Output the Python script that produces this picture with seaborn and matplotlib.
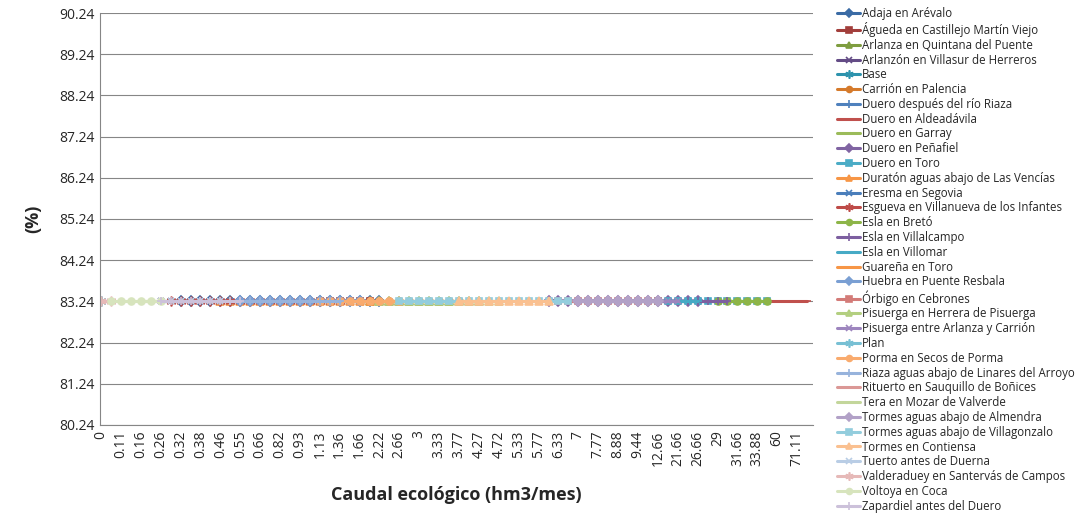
import numpy as np
import pandas as pd
import matplotlib
matplotlib.use('Agg')
import matplotlib.pyplot as plt
import seaborn as sns

# etiquetas visibles del eje X (Excel muestra una de cada dos categorías)
tick_labels = ['0', '0.11', '0.16', '0.26', '0.32', '0.38', '0.46', '0.55', '0.66', '0.82',
               '0.93', '1.13', '1.36', '1.66', '2.22', '2.66', '3', '3.33', '3.77', '4.27',
               '4.72', '5.33', '5.77', '6.33', '7', '7.77', '8.88', '9.44', '12.66', '21.66',
               '26.66', '29', '31.66', '33.88', '60', '71.11']
n_categorias = 72

nombres = ['Adaja en Arévalo', 'Águeda en Castillejo Martín Viejo', 'Arlanza en Quintana del Puente',
           'Arlanzón en Villasur de Herreros', 'Base', 'Carrión en Palencia',
           'Duero después del río Riaza', 'Duero en Aldeadávila', 'Duero en Garray',
           'Duero en Peñafiel', 'Duero en Toro', 'Duratón aguas abajo de Las Vencías',
           'Eresma en Segovia', 'Esgueva en Villanueva de los Infantes', 'Esla en Bretó',
           'Esla en Villalcampo', 'Esla en Villomar', 'Guareña en Toro', 'Huebra en Puente Resbala',
           'Órbigo en Cebrones', 'Pisuerga en Herrera de Pisuerga', 'Pisuerga entre Arlanza y Carrión',
           'Plan', 'Porma en Secos de Porma', 'Riaza aguas abajo de Linares del Arroyo',
           'Rituerto en Sauquillo de Boñices', 'Tera en Mozar de Valverde',
           'Tormes aguas abajo de Almendra', 'Tormes aguas abajo de Villagonzalo',
           'Tormes en Contiensa', 'Tuerto antes de Duerna', 'Valderaduey en Santervás de Campos',
           'Voltoya en Coca', 'Zapardiel antes del Duero']

# primera y última categoría con dato de cada serie (estimadas del gráfico)
inicio = [8, 22, 27, 6, 0, 26, 14, 50, 55, 45, 56, 12, 8, 7, 62, 59, 40,
          20, 14, 46, 28, 50, 0, 22, 10, 4, 2, 48, 30, 36, 6, 0, 1, 6]
fin = [28, 27, 38, 16, 0, 36, 30, 71, 66, 60, 67, 30, 22, 24, 67, 63, 60,
       40, 26, 56, 40, 58, 0, 30, 24, 10, 8, 56, 47, 45, 12, 1, 6, 14]
valor = 83.24

colores = ['#3A6BA5', '#A23E3B', '#7E9D3F', '#644C86', '#2D93AD', '#D57A2B',
           '#4F81BD', '#C0504D', '#9BBB59', '#8064A2', '#4BACC6', '#F79646',
           '#4A7EBB', '#BE4B48', '#8DB548', '#7D5FA0', '#46AAC5', '#F79646',
           '#7A9FD3', '#D37B78', '#B3CF80', '#9D85BE', '#78C0D4', '#F9AB6E',
           '#97B3DC', '#DB9896', '#C3D69B', '#B2A1C7', '#93CDDD', '#FAC090',
           '#B9CDE5', '#E6B9B8', '#D7E4BD', '#CCC1DA']
ciclo_marcadores = ['D', 's', '^', 'x', (6, 2, 0), 'o', '+', '_', '']

filas = []
for nombre, a, b in zip(nombres, inicio, fin):
    for i in range(a, b + 1):
        filas.append({'serie': nombre, 'pos': i, 'valor': valor})
df = pd.DataFrame(filas)

paleta = dict(zip(nombres, colores))
marcadores = {n: ciclo_marcadores[k % 9] for k, n in enumerate(nombres)}
tamanos = {'D': 5, 's': 5, '^': 5.5, 'x': 5, 'o': 5, '+': 6, '_': 6}

sns.set_style('white')
plt.rcParams['font.family'] = ['Open Sans', 'DejaVu Sans']

fig = plt.figure(figsize=(10.84, 5.16), dpi=100)
ax = fig.add_axes([0.0923, 0.1764, 0.6577, 0.7984])

# se dibuja serie a serie (la serie sin marcador no cabe en el mapa de estilos)
for k, n in enumerate(nombres):
    d = df[df['serie'] == n]
    m = marcadores[n]
    ms = tamanos.get(m, 7) if isinstance(m, str) else 7
    sns.lineplot(data=d, x='pos', y='valor', ax=ax, color=paleta[n], linewidth=2.2,
                 marker=m if m != '' else None, markersize=ms, markeredgewidth=1.2,
                 markeredgecolor=paleta[n], label=n, zorder=2 + k * 0.01)

ax.set_ylim(80.24, 90.24)
ax.set_yticks(np.arange(80.24, 90.25, 1.0))
ax.set_yticklabels(['%.2f' % v for v in np.arange(80.24, 90.25, 1.0)], fontsize=10)
ax.set_xlim(-0.1, n_categorias - 0.4)
ax.set_xticks(range(0, n_categorias, 2))
ax.set_xticklabels(tick_labels, rotation=90, fontsize=10)
ax.tick_params(axis='both', length=0, pad=4)
ax.grid(axis='y', color='#868686', linewidth=0.8)
ax.set_axisbelow(True)
for s in ['top', 'right']:
    ax.spines[s].set_visible(False)
for s in ['left', 'bottom']:
    ax.spines[s].set_color('#868686')
    ax.spines[s].set_linewidth(0.8)

ax.set_xlabel('Caudal ecológico (hm3/mes)', fontsize=13, fontweight='bold', labelpad=14)
ax.set_ylabel('(%)', fontsize=13, fontweight='bold', labelpad=12)

ax.legend(loc='upper left', bbox_to_anchor=(0.768, 0.995), bbox_transform=fig.transFigure,
          frameon=False, fontsize=8.3, labelspacing=0.155, handlelength=2.0,
          handletextpad=0.15, borderaxespad=0, markerscale=0.85)

fig.savefig('out.png', dpi=100)
